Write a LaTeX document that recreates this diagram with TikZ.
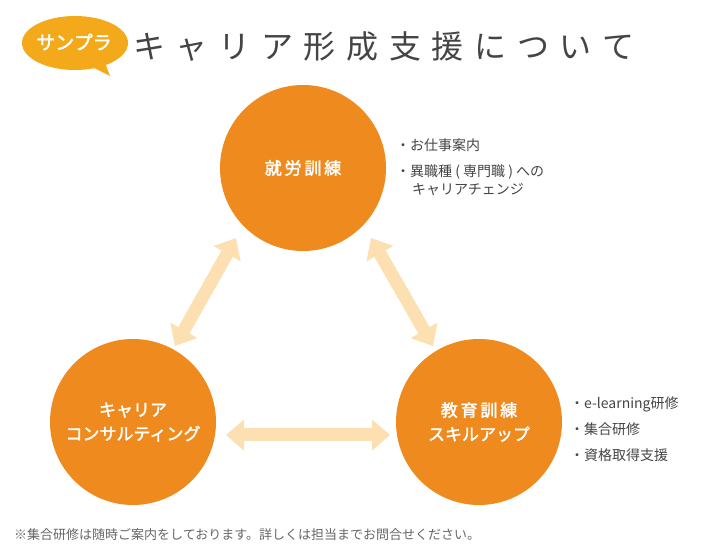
\documentclass[tikz,border=0pt]{standalone}
\usepackage{fontspec}
\setmainfont{Noto Sans CJK JP}
\newfontfamily\jpb{Noto Sans CJK JP}[FakeBold=2]
\usetikzlibrary{arrows.meta}
\definecolor{org}{HTML}{EE8A1E}
\definecolor{badge}{HTML}{F4A91A}
\definecolor{peach}{HTML}{FDE0B2}
\definecolor{txt}{HTML}{444444}
\begin{document}
\begin{tikzpicture}[x=1pt,y=-1pt,
  circ/.style={circle,fill=org,minimum size=166pt,inner sep=0pt,text=white,font=\jpb\fontsize{17}{24}\selectfont,align=center},
  dbl/.style={peach,line width=13pt,{Triangle[width=30pt,length=18pt]}-{Triangle[width=30pt,length=18pt]}},
  lst/.style={anchor=west,text=txt,font=\fontsize{14}{16}\selectfont,inner sep=0pt}]
\useasboundingbox (0,0) rectangle (702,553);
% badge
\fill[badge] (104,60) -- (110,76) -- (90,66) -- cycle;
\fill[badge] (75,43) ellipse[x radius=53,y radius=27];
\node[text=white,font=\jpb\fontsize{19}{20}\selectfont,inner sep=0pt] (badge) at (74,42) {サンプラ};
\node[anchor=west,text=txt,font=\fontsize{32}{34}\selectfont,inner sep=0pt] (title) at (133,47) {キ\,\,ャ\,\,リ\,\,ア\,\,形\,\,成\,\,支\,\,援\,\,に\,\,つ\,\,い\,\,て};
% circles
\node[circ] (top) at (303,168) {就\,労\,訓\,練};
\node[circ] (bl) at (133,422) {キャリア\\コンサルティング};
\node[circ] (br) at (479,422) {教\,育\,訓\,練\\スキルアップ};
% arrows
\coordinate (a1) at (236,238); \coordinate (a2) at (175,346);
\coordinate (b1) at (371,238); \coordinate (b2) at (433,346);
\coordinate (c1) at (226,435); \coordinate (c2) at (390,435);
\draw[dbl] (a1) -- (a2);
\draw[dbl] (b1) -- (b2);
\draw[dbl] (c1) -- (c2);
% lists
\node[lst] (t1) at (396,145) {・お仕事案内};
\node[lst] (t2) at (396,172) {・異職種 ( 専門職 ) への};
\node[lst] (t3) at (412,190) {キャリアチェンジ};
\node[lst] (r1) at (570,404) {・e-learning研修};
\node[lst] (r2) at (570,429) {・集合研修};
\node[lst] (r3) at (570,455) {・資格取得支援};
\node[lst,text=gray!80!black,font=\fontsize{13}{14}\selectfont] (foot) at (14,535) {※集合研修は随時ご案内をしております。詳しくは担当までお問合せください。};
\end{tikzpicture}
\end{document}
